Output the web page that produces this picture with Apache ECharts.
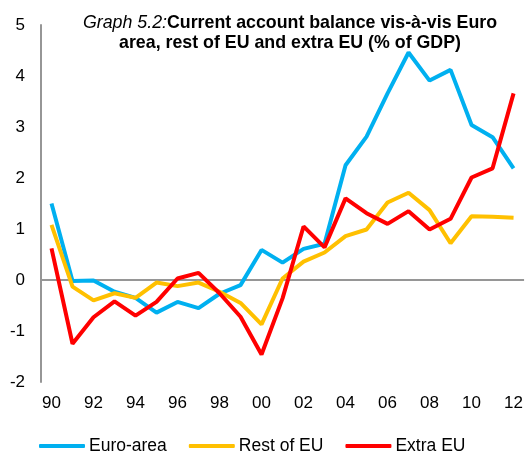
<!DOCTYPE html>
<html>
<head>
<meta charset="utf-8">
<script src="https://cdn.jsdelivr.net/npm/echarts@6/dist/echarts.min.js"></script>
<style>
html, body { margin: 0; padding: 0; background: #fff; }
#chart { width: 526px; height: 452px; }
</style>
</head>
<body>
<div id="chart"></div>
<script>
var years = ['90', '91', '92', '93', '94', '95', '96', '97', '98', '99', '00', '01',
             '02', '03', '04', '05', '06', '07', '08', '09', '10', '11', '12'];
var euroArea = [1.50, -0.02, -0.01, -0.23, -0.35, -0.64, -0.43, -0.55, -0.27, -0.10, 0.59, 0.34,
                0.61, 0.71, 2.25, 2.81, 3.66, 4.46, 3.91, 4.12, 3.04, 2.80, 2.19];
var restOfEU = [1.08, -0.13, -0.40, -0.26, -0.35, -0.05, -0.12, -0.05, -0.23, -0.45, -0.87, 0.03,
                0.36, 0.54, 0.86, 0.99, 1.52, 1.71, 1.37, 0.72, 1.25, 1.24, 1.22];
var extraEU = [0.62, -1.25, -0.73, -0.42, -0.70, -0.43, 0.03, 0.14, -0.26, -0.72, -1.46, -0.36,
               1.05, 0.64, 1.60, 1.31, 1.10, 1.35, 0.99, 1.20, 2.01, 2.19, 3.66];

var myChart = echarts.init(document.getElementById('chart'));

function lineSeries(name, data, color) {
    return {
        name: name,
        type: 'line',
        data: data,
        symbol: 'none',
        lineStyle: { color: color, width: 4 },
        itemStyle: { color: color }
    };
}

var series = [
    lineSeries('Euro-area', euroArea, '#00B0F0'),
    lineSeries('Rest of EU', restOfEU, '#FFC000'),
    lineSeries('Extra EU', extraEU, '#FF0000')
];
// zero line
series[0].markLine = {
    silent: true,
    symbol: 'none',
    label: { show: false },
    lineStyle: { color: '#969696', width: 2, type: 'solid' },
    data: [{ yAxis: 0 }],
    z: 1
};

var option = {
    animation: false,
    textStyle: { fontFamily: 'Liberation Sans, Arial, sans-serif' },
    title: {
        left: 285,
        top: 8,
        textAlign: 'center',
        text: '{i|Graph 5.2:}{b|Current account balance vis-à-vis Euro}\n{b|area, rest of EU and extra EU (% of GDP)}',
        textStyle: {
            rich: {
                i: { fontStyle: 'italic', fontWeight: 'normal', fontSize: 17.8, color: '#000', fontFamily: 'Liberation Sans', lineHeight: 20 },
                b: { fontWeight: 'bold', fontSize: 17.8, color: '#000', fontFamily: 'Liberation Sans', lineHeight: 20 }
            }
        }
    },
    legend: {
        top: 432,
        left: 34,
        itemWidth: 46,
        itemHeight: 4,
        itemGap: 22,
        icon: 'roundRect',
        textStyle: { fontSize: 17.5, color: '#000', padding: [0, 0, 0, -1] },
        data: ['Euro-area', 'Rest of EU', 'Extra EU']
    },
    grid: {
        left: 41,
        right: 1,
        top: 25,
        bottom: 70
    },
    xAxis: {
        type: 'category',
        data: years,
        boundaryGap: true,
        axisLine: { show: false },
        axisTick: { show: false },
        axisLabel: { interval: 1, fontSize: 17, color: '#000', margin: 13 }
    },
    yAxis: {
        type: 'value',
        min: -2,
        max: 5,
        interval: 1,
        axisLine: { show: true, lineStyle: { color: '#969696', width: 2 } },
        axisTick: { show: false },
        splitLine: { show: false },
        axisLabel: { fontSize: 17, color: '#000', margin: 16 }
    },
    series: series
};

myChart.setOption(option);
</script>
</body>
</html>
